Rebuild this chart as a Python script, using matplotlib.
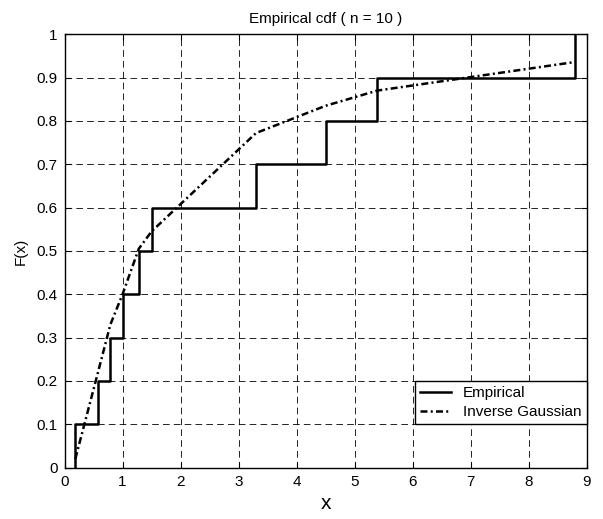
import matplotlib
matplotlib.use("Agg")
import matplotlib.pyplot as plt

plt.rcParams["font.family"] = ["Liberation Sans", "DejaVu Sans"]

# Sorted sample (jump points of the empirical cdf)
sample_x = [0.186, 0.577, 0.79, 1.0, 1.28, 1.50, 3.30, 4.50, 5.39, 8.80]
empirical_f = [0.1, 0.2, 0.3, 0.4, 0.5, 0.6, 0.7, 0.8, 0.9, 1.0]

# Fitted inverse Gaussian cdf, read at the sample points
ig_x = [0.186, 0.577, 0.79, 1.0, 1.28, 1.50, 3.30, 4.50, 5.39, 8.80]
ig_f = [0.02, 0.22, 0.33, 0.40, 0.505, 0.545, 0.772, 0.835, 0.870, 0.936]

figure, axis = plt.subplots(figsize=(6.03, 5.19), dpi=100)
figure.subplots_adjust(left=0.107, right=0.973, top=0.934, bottom=0.099)

# Empirical stairs start from zero at the first point
step_x = [sample_x[0]] + sample_x
step_f = [0.0] + empirical_f
axis.step(step_x, step_f, where="post", color="black", linewidth=1.8,
          label="Empirical")
axis.plot(ig_x, ig_f, color="black", linewidth=1.8,
          dashes=(2.8, 1.3, 0.8, 1.3), label="Inverse Gaussian")

axis.set_xlim(0, 9)
axis.set_ylim(0, 1)
axis.set_xticks(range(0, 10))
axis.set_yticks([i / 10 for i in range(11)])
axis.set_yticklabels(["0", "0.1", "0.2", "0.3", "0.4", "0.5", "0.6",
                      "0.7", "0.8", "0.9", "1"])
axis.grid(True, color="black", linestyle=(0, (8, 5)), linewidth=0.6)
axis.tick_params(direction="in", top=True, right=True, labelsize=11,
                 length=4, width=0.8, pad=5)
for spine in axis.spines.values():
    spine.set_linewidth(1.0)

axis.set_title("Empirical cdf ( n = 10 )", fontsize=11, pad=8)
axis.set_xlabel("x", fontsize=15, labelpad=4)
axis.set_ylabel("F(x)", fontsize=11, labelpad=6)

legend = axis.legend(loc="lower right", bbox_to_anchor=(1.0, 0.1),
                     borderaxespad=0, fancybox=False, framealpha=1,
                     edgecolor="black", fontsize=11, handlelength=2.0,
                     borderpad=0.35, labelspacing=0.3)
legend.get_frame().set_linewidth(1.0)

figure.savefig("out.png", dpi=100)
plt.close(figure)
